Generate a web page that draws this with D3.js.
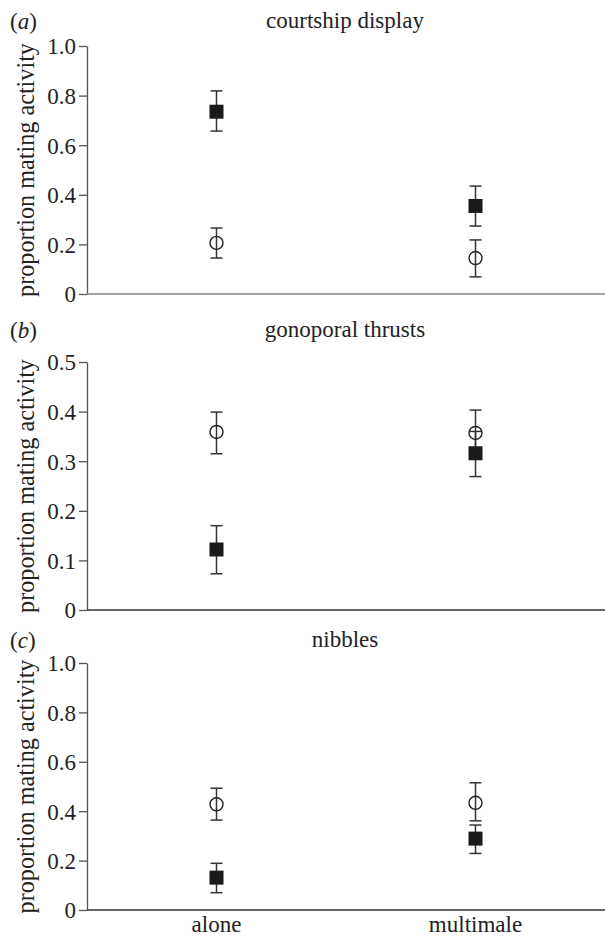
<!DOCTYPE html>
<html>
<head>
<meta charset="utf-8">
<script src="https://cdnjs.cloudflare.com/ajax/libs/d3/7.8.5/d3.min.js"></script>
<style>
  body { margin: 0; background: #fff; }
  svg text { font-family: "Liberation Serif", "Times New Roman", serif !important; fill: #222; }
</style>
</head>
<body>
<div id="chart"></div>
<script>
// panel titles and letters
const titles = ["courtship display", "gonoporal thrusts", "nibbles"];
const letters = ["a", "b", "c"];
const yMax = [1.0, 0.5, 1.0];
const yTicks = [
    [0, 0.2, 0.4, 0.6, 0.8, 1.0],
    [0, 0.1, 0.2, 0.3, 0.4, 0.5],
    [0, 0.2, 0.4, 0.6, 0.8, 1.0]
];
const groups = ["alone", "multimale"];

// filled squares: mean, lower and upper error bar ends (alone, multimale)
const filledMean = [[0.735, 0.355], [0.122, 0.316], [0.131, 0.289]];
const filledLo   = [[0.657, 0.274], [0.073, 0.269], [0.070, 0.229]];
const filledHi   = [[0.819, 0.435], [0.170, 0.360], [0.189, 0.344]];

// open circles: mean, lower and upper error bar ends (alone, multimale)
const openMean = [[0.206, 0.145], [0.359, 0.357], [0.428, 0.434]];
const openLo   = [[0.145, 0.069], [0.315, 0.312], [0.364, 0.361]];
const openHi   = [[0.266, 0.218], [0.399, 0.403], [0.493, 0.515]];

const width = 605;
const height = 937;
const left = 87;
const right = 605;
const serif = "'Liberation Serif', 'Times New Roman', serif";

// vertical extent of each panel (top tick, zero line)
const panelTop = [46, 362, 663];
const panelBottom = [294, 610, 910];
const titleY = [28, 337, 647];
const xAxisColor = ["#888", "#333", "#333"];

const svg = d3.select("#chart")
.append("svg")
.attr("width", width)
.attr("height", height)
.style("font-family", serif);

const x = d3.scalePoint()
.domain(groups)
.range([left, right])
.padding(0.5);

const fmt = d => d === 0 ? "0" : d3.format(".1f")(d);

titles.forEach((title, p) => {

    const y = d3.scaleLinear()
    .domain([0, yMax[p]])
    .range([panelBottom[p], panelTop[p]]);

    const g = svg.append("g");

    // panel letter
    const lt = g.append("text")
    .attr("x", 10)
    .attr("y", titleY[p] + 1)
    .style("font-family", serif)
    .attr("font-size", 23);
    lt.append("tspan").text("(");
    lt.append("tspan").attr("font-style", "italic").text(letters[p]);
    lt.append("tspan").text(")");

    // title
    g.append("text")
    .attr("x", 345)
    .attr("y", titleY[p])
    .attr("text-anchor", "middle")
    .style("font-family", serif)
    .attr("font-size", 23)
    .text(title);

    // y axis
    const yAxis = d3.axisLeft(y)
    .tickValues(yTicks[p])
    .tickFormat(fmt)
    .tickSize(8)
    .tickSizeOuter(0)
    .tickPadding(3);

    const ya = g.append("g")
    .attr("transform", `translate(${left},0)`)
    .call(yAxis)
    .attr("font-family", null);
    ya.select(".domain").attr("stroke", "#555").attr("stroke-width", 1.3);
    ya.selectAll(".tick line").attr("stroke", "#555").attr("stroke-width", 1.3);
    ya.selectAll(".tick text")
    .style("font-family", serif)
    .attr("font-size", 23)
    .attr("fill", "#222")
    .attr("dy", "0.34em");

    // x axis line
    g.append("line")
    .attr("x1", left)
    .attr("x2", right)
    .attr("y1", y(0))
    .attr("y2", y(0))
    .attr("stroke", xAxisColor[p])
    .attr("stroke-width", 1.3);

    // y label
    g.append("text")
    .attr("transform", `translate(34,${(panelTop[p] + panelBottom[p]) / 2}) rotate(-90)`)
    .attr("text-anchor", "middle")
    .style("font-family", serif)
    .attr("font-size", 24.2)
    .text("proportion mating activity");

    // error bars for both series
    const bars = [];
    groups.forEach((grp, i) => {
        bars.push({ grp: grp, lo: openLo[p][i], hi: openHi[p][i] });
        bars.push({ grp: grp, lo: filledLo[p][i], hi: filledHi[p][i] });
    });

    const eb = g.append("g")
    .attr("stroke", "#333")
    .attr("stroke-width", 1.5);

    eb.selectAll(".stem")
    .data(bars)
    .enter()
    .append("line")
    .attr("x1", d => x(d.grp))
    .attr("x2", d => x(d.grp))
    .attr("y1", d => y(d.lo))
    .attr("y2", d => y(d.hi));

    ["lo", "hi"].forEach(k => {
        eb.selectAll(".cap-" + k)
        .data(bars)
        .enter()
        .append("line")
        .attr("x1", d => x(d.grp) - 6)
        .attr("x2", d => x(d.grp) + 6)
        .attr("y1", d => y(d[k]))
        .attr("y2", d => y(d[k]));
    });

    // open circles
    g.selectAll(".open")
    .data(groups)
    .enter()
    .append("circle")
    .attr("cx", d => x(d))
    .attr("cy", (d, i) => y(openMean[p][i]))
    .attr("r", 6.5)
    .attr("fill", "none")
    .attr("stroke", "#222")
    .attr("stroke-width", 1.4);

    // filled squares
    g.selectAll(".filled")
    .data(groups)
    .enter()
    .append("rect")
    .attr("x", d => x(d) - 7)
    .attr("y", (d, i) => y(filledMean[p][i]) - 7)
    .attr("width", 14)
    .attr("height", 14)
    .attr("fill", "#1a1a1a");
});

// category labels under the last panel
svg.selectAll(".xlabel")
.data(groups)
.enter()
.append("text")
.attr("x", d => x(d))
.attr("y", 932)
.attr("text-anchor", "middle")
.style("font-family", serif)
.attr("font-size", 23)
.text(d => d);
</script>
</body>
</html>
